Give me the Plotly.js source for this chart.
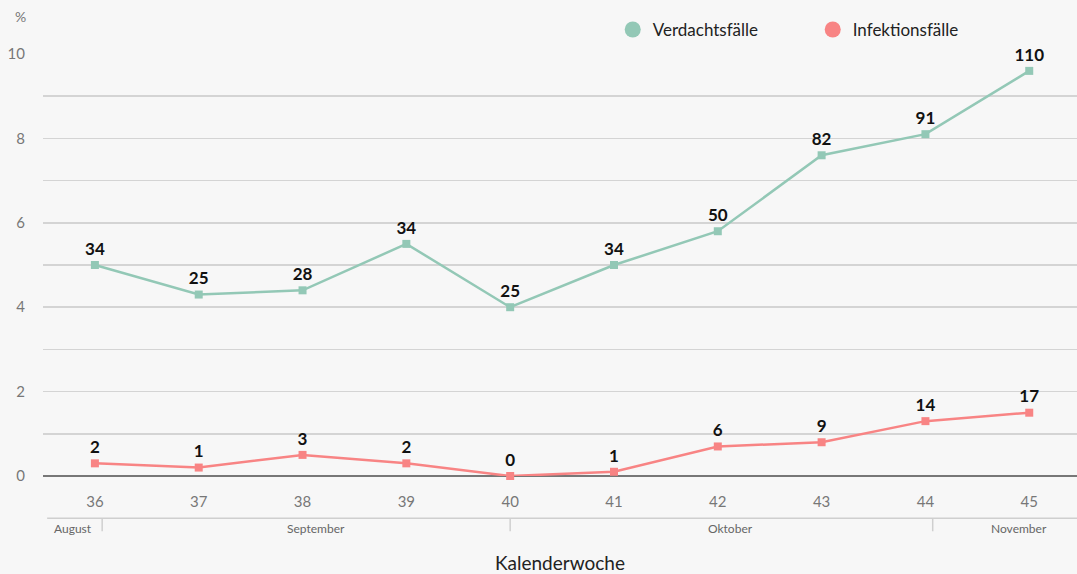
<!DOCTYPE html>
<html><head><meta charset="utf-8">
<script src="https://cdn.plot.ly/plotly-3.0.1.min.js"></script>
<style>html,body{margin:0;padding:0;background:#f7f7f7;}#chart{width:1077px;height:574px;}</style>
</head><body><div id="chart"></div>
<script>
const weeks = [36, 37, 38, 39, 40, 41, 42, 43, 44, 45];
const verdachtPct = [5.0, 4.3, 4.4, 5.5, 4.0, 5.0, 5.8, 7.6, 8.1, 9.6];
const verdachtN = [34, 25, 28, 34, 25, 34, 50, 82, 91, 110];
const infektPct = [0.3, 0.2, 0.5, 0.3, 0.0, 0.1, 0.7, 0.8, 1.3, 1.5];
const infektN = [2, 1, 3, 2, 0, 1, 6, 9, 14, 17];
const yTickVals = [0, 1, 2, 3, 4, 5, 6, 7, 8, 9, 10];
const yTickText = ['0', '', '2', '', '4', '', '6', '', '8', '', '10'];
const months = ['August', 'September', 'Oktober', 'November'];
const monthLabelX = [35.79, 38.13, 42.12, 44.9];
const monthBoundX = [36.07, 40.0, 44.07];
const seriesNames = ['Verdachtsfälle', 'Infektionsfälle'];

const green = '#93c8b6', red = '#f88484';
const font = 'Lato, "Open Sans", sans-serif';

function series(y, n, color) {
  return {
    x: weeks, y: y, text: n.map(String), mode: 'lines+markers+text',
    textposition: 'top center', cliponaxis: false, showlegend: false, hoverinfo: 'skip',
    textfont: {family: font, size: 17, color: '#111', weight: 'bold'},
    line: {color: color, width: 2.5}, marker: {color: color, size: 8, symbol: 'square'}
  };
}
function legendItem(name, color) {
  return {x: [null], y: [null], mode: 'markers', name: name,
    marker: {color: color, size: 20, symbol: 'circle'}};
}

const data = [
  series(verdachtPct, verdachtN, green),
  series(infektPct, infektN, red),
  legendItem(seriesNames[0], green),
  legendItem(seriesNames[1], red)
];

const shapes = [{type: 'line', xref: 'x', yref: 'paper', x0: 35.54, x1: 45.46, y0: -0.1, y1: -0.1,
  line: {color: '#cfcfcf', width: 1.5}}];
monthBoundX.forEach(v => shapes.push({type: 'line', xref: 'x', yref: 'paper', x0: v, x1: v,
  y0: -0.1, y1: -0.131, line: {color: '#cfcfcf', width: 1.5}}));

const annotations = months.map((m, i) => ({x: monthLabelX[i], xref: 'x', y: -0.124, yref: 'paper',
  text: m, showarrow: false, yanchor: 'middle', font: {family: font, size: 12, color: '#666'}}));
annotations.push({x: -0.0222, xref: 'paper', y: 1.088, yref: 'paper', text: '%', showarrow: false,
  xanchor: 'center', yanchor: 'middle', font: {family: font, size: 14, color: '#777'}});

const layout = {
  width: 1077, height: 574,
  paper_bgcolor: '#f7f7f7', plot_bgcolor: '#f7f7f7',
  margin: {l: 43, r: 0, t: 54, b: 98, autoexpand: false},
  font: {family: font, color: '#777'},
  showlegend: true,
  legend: {orientation: 'h', x: 0.551, xanchor: 'left', y: 1.057, yanchor: 'middle',
    font: {family: font, size: 17, color: '#222'}, itemwidth: 30, bgcolor: 'rgba(0,0,0,0)',
    tracegroupgap: 0, entrywidth: 155},
  xaxis: {range: [35.5, 45.46], tickvals: weeks, ticktext: weeks.map(String),
    showgrid: false, zeroline: false, showline: false,
    ticks: 'outside', ticklen: 12, tickcolor: 'rgba(0,0,0,0)',
    tickfont: {family: font, size: 15, color: '#777'},
    title: {text: 'Kalenderwoche', standoff: 48, font: {family: font, size: 19, color: '#222'}}},
  yaxis: {range: [0, 10], tickvals: yTickVals, ticktext: yTickText,
    showgrid: true, gridcolor: '#d4d4d4', gridwidth: 1.5,
    zeroline: true, zerolinecolor: '#777', zerolinewidth: 2,
    ticks: 'outside', ticklen: 14, tickcolor: 'rgba(0,0,0,0)',
    tickfont: {family: font, size: 15, color: '#777'}},
  shapes: shapes, annotations: annotations
};
Plotly.newPlot('chart', data, layout, {displayModeBar: false, staticPlot: true});
</script></body></html>
